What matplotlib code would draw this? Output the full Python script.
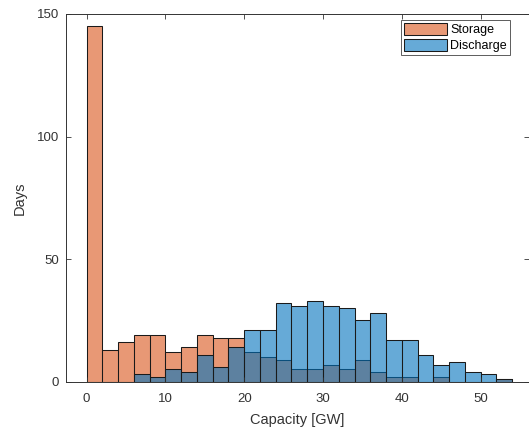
import numpy as np
import matplotlib
matplotlib.use("Agg")
import matplotlib.pyplot as plt

plt.rcParams['font.family'] = ['Liberation Sans', 'DejaVu Sans']

bin_edges = np.arange(0, 56, 2)
storage = [145, 13, 16, 19, 19, 12, 14, 19, 18, 18, 12, 10, 9, 5, 5, 7, 5, 9, 4, 2, 2, 0, 2, 0, 0, 0, 1]
discharge = [0, 0, 0, 3, 2, 5, 4, 11, 6, 14, 21, 21, 32, 31, 33, 31, 30, 25, 28, 17, 17, 11, 7, 8, 4, 3, 1]
series_names = ["Storage", "Discharge"]
xticks = [0, 10, 20, 30, 40, 50]
yticks = [0, 50, 100, 150]

W, H = 529, 432
fig = plt.figure(figsize=(W / 100, H / 100), dpi=100)
left, right, bottom, top = 65.7, 529, 381.7, 14
ax = fig.add_axes([left / W, 1 - bottom / H, (right - left) / W, (bottom - top) / H])

c_orange = (0.85, 0.325, 0.098, 0.6)
c_blue = (0.0, 0.447, 0.741, 0.6)
axc = '#333333'

widths = np.diff(bin_edges)
ax.bar(bin_edges[:-1], storage, width=widths, align='edge', color=c_orange,
       edgecolor='#1a1a1a', linewidth=0.75, label=series_names[0])
ax.bar(bin_edges[:-1], discharge, width=widths, align='edge', color=c_blue,
       edgecolor='#1a1a1a', linewidth=0.75, label=series_names[1])

ax.set_xlim(-2.66, 56.15)
ax.set_ylim(0, 150)
ax.set_xticks(xticks)
ax.set_yticks(yticks)
ax.tick_params(direction='in', length=3.5, width=0.6, colors=axc, labelsize=9.5,
               top=True, right=True)
ax.tick_params(axis='x', pad=8)
ax.tick_params(axis='y', pad=5)
for s in ['left', 'bottom', 'top']:
    ax.spines[s].set_color(axc)
    ax.spines[s].set_linewidth(0.7)
ax.spines['right'].set_visible(False)

ax.set_xlabel('Capacity [GW]', fontsize=10.5, color=axc, labelpad=6)
ax.set_ylabel('Days', fontsize=10.5, color=axc, labelpad=7)

leg = ax.legend(loc='upper right', bbox_to_anchor=(0.959, 0.984), borderaxespad=0,
                fontsize=9, frameon=True, fancybox=False, handlelength=3.4,
                handleheight=1.05, handletextpad=0.3, borderpad=0.25,
                labelspacing=0.25)
leg.get_frame().set_edgecolor(axc)
leg.get_frame().set_linewidth(0.7)
for t in leg.get_texts():
    t.set_color('black')

fig.savefig('out.png', dpi=100)
